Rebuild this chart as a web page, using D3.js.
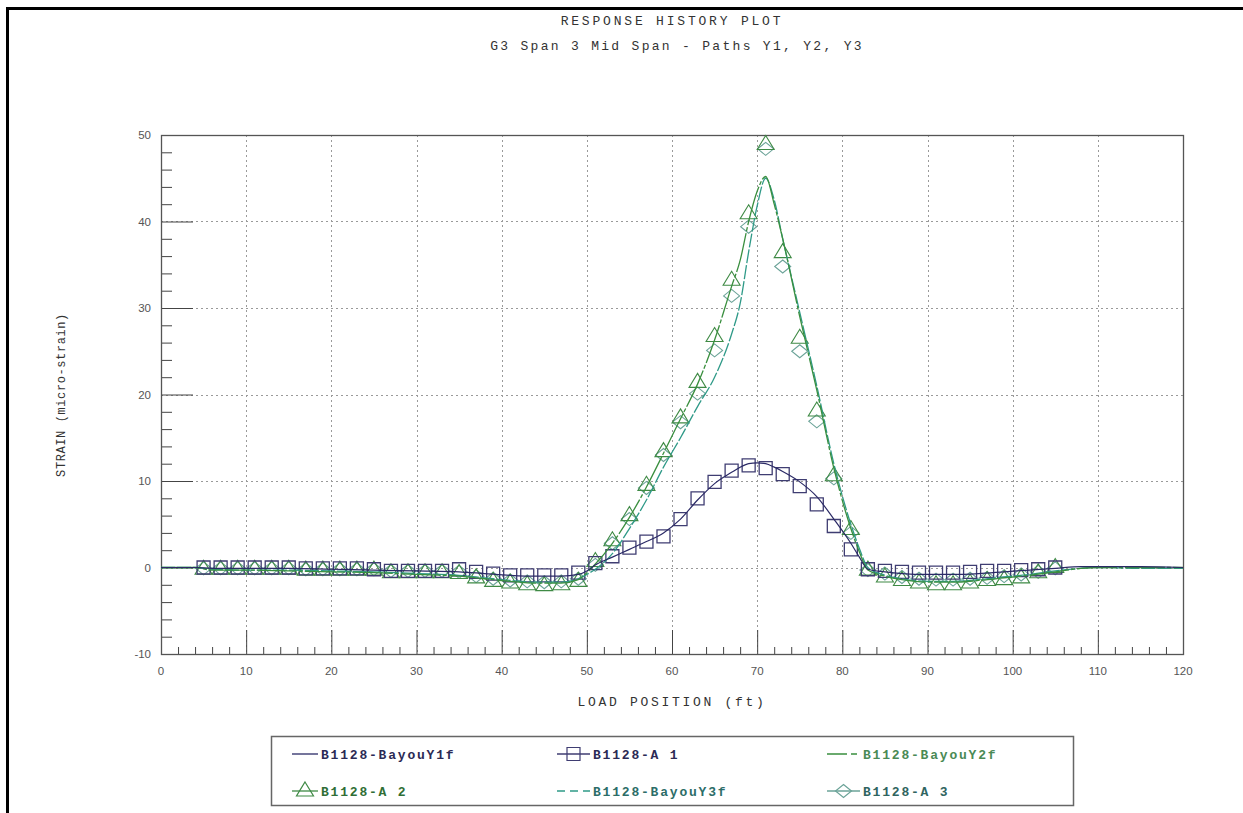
<!DOCTYPE html>
<html>
<head>
<meta charset="utf-8">
<script src="https://cdn.jsdelivr.net/npm/d3@7/dist/d3.min.js"></script>
<style>
  html, body { margin: 0; padding: 0; background: #fff; }
  svg { display: block; }
  .mono { font-family: "Courier New", "Liberation Mono", "DejaVu Sans Mono", monospace; }
  .tick-label { font-family: Arial, "Liberation Sans", sans-serif; font-size: 11.5px; fill: #555; }
</style>
</head>
<body>
<svg id="chart" width="1243" height="813"></svg>
<script>
// ---- data -------------------------------------------------------------
// measured gauge positions (ft) for the marker series
const markerPositions = [5, 7, 9, 11, 13, 15, 17, 19, 21, 23, 25, 27, 29, 31, 33, 35, 37, 39, 41, 43, 45, 47, 49,
  51, 53, 55, 57, 59, 61, 63, 65, 67, 69, 71, 73, 75, 77, 79, 81, 83, 85, 87, 89, 91, 93, 95, 97, 99, 101, 103, 105];

const seriesA1 = [0, 0, 0, 0, 0, 0, -0.1, -0.1, -0.1, -0.1, -0.2, -0.4, -0.4, -0.4, -0.4, -0.2, -0.5, -0.7, -0.9, -0.9, -0.9, -0.9, -0.6,
  0.5, 1.3, 2.3, 3.0, 3.6, 5.6, 8.0, 9.9, 11.2, 11.8, 11.5, 10.8, 9.4, 7.3, 4.8, 2.1, -0.2, -0.4, -0.5, -0.6, -0.6, -0.6, -0.5, -0.4, -0.4, -0.3, -0.2, 0.0];

const seriesA2 = [-0.2, -0.2, -0.2, -0.2, -0.2, -0.2, -0.3, -0.3, -0.3, -0.3, -0.3, -0.6, -0.6, -0.6, -0.6, -0.7, -1.2, -1.6, -1.8, -2.0, -2.1, -2.0, -1.6,
  0.7, 3.1, 6.0, 9.5, 13.4, 17.3, 21.4, 26.7, 33.2, 40.9, 48.9, 36.4, 26.5, 18.1, 10.6, 4.4, -0.3, -1.1, -1.5, -1.8, -2.0, -2.0, -1.8, -1.5, -1.4, -1.2, -0.6, 0.0];

const seriesA3 = [-0.1, -0.1, -0.1, -0.1, -0.1, -0.1, -0.2, -0.2, -0.2, -0.2, -0.2, -0.4, -0.4, -0.4, -0.4, -0.5, -1.0, -1.3, -1.5, -1.6, -1.7, -1.6, -1.3,
  0.3, 2.8, 5.6, 9.2, 13.0, 16.8, 20.1, 25.1, 31.4, 39.4, 48.4, 34.8, 25.0, 16.9, 10.3, 4.0, -0.3, -0.7, -1.1, -1.3, -1.4, -1.4, -1.3, -1.2, -1.0, -0.8, -0.5, -0.1];

// load positions (ft) for the continuous response histories
const linePositions = [0, 4, 6, 10, 15, 20, 25, 30, 35, 38, 41, 44, 47, 49, 50, 51, 53, 55, 57, 59, 61, 63, 65, 67, 68, 69, 70, 71, 72, 73,
  75, 77, 79, 81, 82, 83, 85, 87, 90, 93, 96, 99, 102, 105, 108, 110, 115, 120];

const seriesY1f = [0, 0, -0.1, -0.1, -0.1, -0.2, -0.3, -0.4, -0.5, -0.7, -0.9, -1.0, -1.0, -0.8, -0.4, 0.3, 1.2, 2.1, 3.0, 4.0, 5.6, 7.8, 9.7, 11.0, 11.6, 12.0, 12.1, 12.0, 11.6, 11.1,
  9.9, 8.2, 5.6, 2.8, 1.2, -0.2, -0.5, -0.7, -0.8, -0.8, -0.7, -0.5, -0.3, -0.1, 0.1, 0.1, 0.1, 0.0];

const seriesY2f = [0, 0, -0.3, -0.3, -0.4, -0.5, -0.6, -0.8, -1.0, -1.3, -1.6, -1.8, -1.8, -1.4, -0.6, 0.4, 2.8, 5.8, 9.3, 13.2, 17.2, 21.2, 26.3, 32.5, 35.5, 40.0, 43.5, 45.2, 42.0, 38.0,
  29.0, 20.5, 11.5, 4.5, 1.8, -0.3, -1.0, -1.4, -1.7, -1.7, -1.5, -1.2, -0.9, -0.5, -0.1, 0.0, 0.0, 0.0];

const seriesY3f = [0, 0, -0.2, -0.3, -0.3, -0.4, -0.5, -0.7, -0.9, -1.2, -1.5, -1.7, -1.7, -1.3, -0.8, -0.2, 1.6, 4.5, 7.8, 11.6, 15.0, 18.6, 22.0, 27.0, 30.5, 36.5, 41.8, 45.0, 42.5, 38.0,
  29.5, 21.0, 12.0, 5.0, 2.2, 0.0, -0.9, -1.3, -1.6, -1.6, -1.4, -1.1, -0.8, -0.4, -0.1, 0.0, -0.1, -0.1];

const xTicks = [0, 10, 20, 30, 40, 50, 60, 70, 80, 90, 100, 110, 120];
const yTicks = [-10, 0, 10, 20, 30, 40, 50];

const titleText = "RESPONSE HISTORY PLOT";
const subtitleText = "G3 Span 3 Mid Span - Paths Y1, Y2, Y3";
const xLabel = "LOAD POSITION (ft)";
const yLabel = "STRAIN (micro-strain)";

// ---- styling ----------------------------------------------------------
const C = {
  y1: "#2b2a66", a1: "#3f3d72",
  y2: "#3a8f3f", a2: "#3f8a45",
  y3: "#2f9a88", a3: "#6ba398"
};

const svg = d3.select("#chart");
const W = 1243, H = 813;
const plot = { left: 161, right: 1183, top: 135, bottom: 654 };

const x = d3.scaleLinear().domain([0, 120]).range([plot.left, plot.right]);
const y = d3.scaleLinear().domain([-10, 50]).range([plot.bottom, plot.top]);

// page frame (top and left rules)
svg.append("path")
  .attr("d", `M7.5,${H} L7.5,8.5 L${W},8.5`)
  .attr("fill", "none").attr("stroke", "#000").attr("stroke-width", 3);

// titles
svg.append("text").attr("class", "mono")
  .attr("x", 672).attr("y", 25).attr("text-anchor", "middle")
  .attr("font-size", 13).attr("letter-spacing", 2.8).attr("fill", "#333")
  .text(titleText);
svg.append("text").attr("class", "mono")
  .attr("x", 677).attr("y", 50).attr("text-anchor", "middle")
  .attr("font-size", 13).attr("letter-spacing", 2.3).attr("fill", "#333")
  .text(subtitleText);

// gridlines
const grid = svg.append("g").attr("stroke", "#9a9a9a").attr("stroke-width", 1).attr("stroke-dasharray", "2,3");
grid.selectAll("line.v").data(xTicks.filter(d => d > 0 && d < 120)).join("line")
  .attr("x1", d => Math.round(x(d)) + 0.5).attr("x2", d => Math.round(x(d)) + 0.5)
  .attr("y1", plot.top).attr("y2", plot.bottom);
grid.selectAll("line.h").data(yTicks.filter(d => d > -10 && d < 50)).join("line")
  .attr("x1", plot.left).attr("x2", plot.right)
  .attr("y1", d => Math.round(y(d)) + 0.5).attr("y2", d => Math.round(y(d)) + 0.5);

// axes with inward ticks (d3 axes, custom tick lengths)
const yMinor = d3.range(-10, 51, 2);
const xMinor = d3.range(0, 121, 2);

const yAxisMinor = d3.axisRight(y).tickValues(yMinor.filter(d => d % 10 !== 0)).tickSize(11).tickFormat("");
const yAxisMajor = d3.axisRight(y).tickValues(yTicks.filter(d => d > -10 && d < 50)).tickSize(32).tickFormat("");
const xAxisMinor = d3.axisTop(x).tickValues(xMinor.filter(d => d % 10 !== 0)).tickSize(7).tickFormat("");
const xAxisMajor = d3.axisTop(x).tickValues(xTicks.filter(d => d > 0 && d < 120)).tickSize(24).tickFormat("");

function styleAxis(g) {
  g.select(".domain").remove();
  g.selectAll(".tick line").attr("stroke", "#444").attr("stroke-width", 1);
}
svg.append("g").attr("transform", `translate(${plot.left},0)`).call(yAxisMinor).call(styleAxis);
svg.append("g").attr("transform", `translate(${plot.left},0)`).call(yAxisMajor).call(styleAxis);
svg.append("g").attr("transform", `translate(0,${plot.bottom})`).call(xAxisMinor).call(styleAxis);
svg.append("g").attr("transform", `translate(0,${plot.bottom})`).call(xAxisMajor).call(styleAxis);

// plot border
svg.append("rect")
  .attr("x", plot.left + 0.5).attr("y", plot.top + 0.5)
  .attr("width", plot.right - plot.left).attr("height", plot.bottom - plot.top)
  .attr("fill", "none").attr("stroke", "#555").attr("stroke-width", 1.3);

// tick labels
svg.append("g").selectAll("text").data(yTicks).join("text")
  .attr("class", "tick-label")
  .attr("x", 151).attr("y", d => y(d) + 4).attr("text-anchor", "end")
  .text(d => d);
svg.append("g").selectAll("text").data(xTicks).join("text")
  .attr("class", "tick-label")
  .attr("x", d => x(d)).attr("y", 675).attr("text-anchor", "middle")
  .text(d => d);

// axis titles
svg.append("text").attr("class", "mono")
  .attr("transform", "translate(65,395) rotate(-90)")
  .attr("text-anchor", "middle").attr("font-size", 12).attr("letter-spacing", 0.6).attr("fill", "#333")
  .text(yLabel);
svg.append("text").attr("class", "mono")
  .attr("x", 672).attr("y", 706).attr("text-anchor", "middle")
  .attr("font-size", 13).attr("letter-spacing", 2.7).attr("fill", "#333")
  .text(xLabel);

// ---- series -----------------------------------------------------------
const layer = svg.append("g");

const line = d3.line().x(d => x(d[0])).y(d => y(d[1])).curve(d3.curveMonotoneX);
function lineData(vals) { return linePositions.map((p, i) => [p, vals[i]]); }
function markerData(vals) { return markerPositions.map((p, i) => [p, vals[i]]); }

// marker shapes
const squarePath = "M-6.5,-6.5H6.5V6.5H-6.5Z";
const trianglePath = "M0,-9L8.5,5L-8.5,5Z";
const diamondPath = "M0,-6.5L8,0L0,6.5L-8,0Z";

function drawMarkers(vals, path, color, width) {
  layer.append("g").selectAll("path").data(markerData(vals)).join("path")
    .attr("d", path)
    .attr("transform", d => `translate(${x(d[0])},${y(d[1])})`)
    .attr("fill", "none").attr("stroke", color).attr("stroke-width", width);
}

drawMarkers(seriesA3, diamondPath, C.a3, 1.1);
drawMarkers(seriesA2, trianglePath, C.a2, 1.1);
drawMarkers(seriesA1, squarePath, C.a1, 1.3);

layer.append("path").datum(lineData(seriesY3f)).attr("d", line)
  .attr("fill", "none").attr("stroke", C.y3).attr("stroke-width", 1.3).attr("stroke-dasharray", "14,2");
layer.append("path").datum(lineData(seriesY2f)).attr("d", line)
  .attr("fill", "none").attr("stroke", C.y2).attr("stroke-width", 1.3).attr("stroke-dasharray", "40,2,4,2");
layer.append("path").datum(lineData(seriesY1f)).attr("d", line)
  .attr("fill", "none").attr("stroke", C.y1).attr("stroke-width", 1.2);

// ---- legend -----------------------------------------------------------
const legendItems = [
  { label: "B1128-BayouY1f", kind: "line", color: C.y1, text: "#2b2a55", dash: null, col: 0, row: 0 },
  { label: "B1128-A 1", kind: "square", color: C.a1, text: "#2b2a55", col: 1, row: 0 },
  { label: "B1128-BayouY2f", kind: "line", color: C.y2, text: "#4a8a55", dash: "20,4,6", col: 2, row: 0 },
  { label: "B1128-A 2", kind: "triangle", color: C.a2, text: "#2f6e35", col: 0, row: 1 },
  { label: "B1128-BayouY3f", kind: "line", color: C.y3, text: "#2c6d68", dash: "8,5", col: 1, row: 1 },
  { label: "B1128-A 3", kind: "diamond", color: C.a3, text: "#2f6460", col: 2, row: 1 }
];

const legend = svg.append("g");
legend.append("rect")
  .attr("x", 271.5).attr("y", 736.5).attr("width", 802).attr("height", 69)
  .attr("fill", "#fff").attr("stroke", "#666").attr("stroke-width", 1.5);

const colStart = [292, 557, 827];
const rowY = [754, 791];

legendItems.forEach(it => {
  const g = legend.append("g").attr("transform", `translate(${colStart[it.col]},${rowY[it.row]})`);
  const sw = it.col === 0 ? 26 : 33;
  g.append("line").attr("x1", 0).attr("x2", sw).attr("y1", 0).attr("y2", 0)
    .attr("stroke", it.color).attr("stroke-width", 1.3)
    .attr("stroke-dasharray", it.dash || null);
  if (it.kind !== "line") {
    const p = it.kind === "square" ? squarePath : it.kind === "triangle" ? trianglePath : diamondPath;
    g.append("path").attr("d", p).attr("transform", `translate(${sw / 2},0)`)
      .attr("fill", "none").attr("stroke", it.color).attr("stroke-width", 1.2);
  }
  g.append("text").attr("class", "mono")
    .attr("x", sw + 3).attr("y", 4.5)
    .attr("font-size", 13).attr("letter-spacing", 1.8).attr("font-weight", 600)
    .attr("fill", it.text)
    .text(it.label);
});
</script>
</body>
</html>
